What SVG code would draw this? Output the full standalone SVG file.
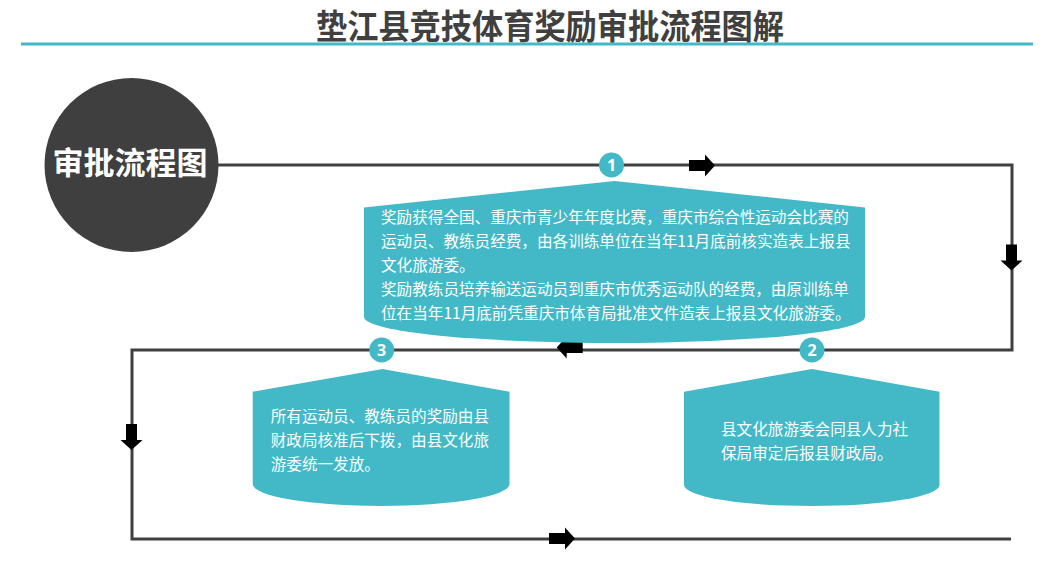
<svg xmlns="http://www.w3.org/2000/svg" xmlns:xlink="http://www.w3.org/1999/xlink" width="1061" height="568" viewBox="0 0 1061 568">
<style>
.line{fill:none;stroke:#404040;stroke-width:3}
.box{fill:#43b9c7}
.badge{fill:#43b9c7}
.num{font-family:"Open Sans","Liberation Sans",sans-serif;font-weight:bold;font-size:16px;fill:#ffffff;text-anchor:middle}
.txt{font-family:"Noto Sans CJK SC","Microsoft YaHei",sans-serif;font-size:15.6px;fill:#ffffff}
.title{font-family:"Noto Sans CJK SC",sans-serif;font-weight:bold;font-size:34px;fill:#404040}
.arrow{fill:#000000}
</style>
<defs>
<path id="arr" d="M-13,-5.5 H3 V-11 L13,0 L3,11 V5.5 H-13 Z"/>
</defs>
<rect width="1061" height="568" fill="#ffffff"/>
<g id="header">
<line x1="21" y1="44" x2="1033" y2="44" stroke="#43b9c7" stroke-width="3"/>
<text class="title" x="316" y="39" textLength="468" lengthAdjust="spacingAndGlyphs">垫江县竞技体育奖励审批流程图解</text>
</g>
<g id="connectors">
<path class="line" d="M210,165 H1012 V350 H132 V539 H1011"/>
<use xlink:href="#arr" class="arrow" transform="translate(702,165.5)"/>
<use xlink:href="#arr" class="arrow" transform="translate(1011.5,257.5) rotate(90)"/>
<use xlink:href="#arr" class="arrow" transform="translate(569.7,347.5) rotate(180)"/>
<use xlink:href="#arr" class="arrow" transform="translate(131.5,437) rotate(90)"/>
<use xlink:href="#arr" class="arrow" transform="translate(562,538.5)"/>
</g>
<g id="start">
<circle cx="131.5" cy="165" r="87" fill="#3f3f3f"/>
<text x="130" y="173.5" font-family="Noto Sans CJK SC,sans-serif" font-weight="bold" font-size="31" fill="#ffffff" text-anchor="middle">审批流程图</text>
</g>
<g id="step1">
<path class="box" d="M364,207.5 L614.5,181 L865,207.5 V317 A250.5,26 0 0 1 364,317 Z"/>
<circle class="badge" cx="611.5" cy="165" r="12.5"/>
<text class="num" x="611.5" y="170.7">1</text>
<text class="txt" x="381" y="223">奖励获得全国、重庆市青少年年度比赛，重庆市综合性运动会比赛的</text>
<text class="txt" x="381" y="247">运动员、教练员经费，由各训练单位在当年11月底前核实造表上报县</text>
<text class="txt" x="381" y="271">文化旅游委。</text>
<text class="txt" x="381" y="295">奖励教练员培养输送运动员到重庆市优秀运动队的经费，由原训练单</text>
<text class="txt" x="381" y="319">位在当年11月底前凭重庆市体育局批准文件造表上报县文化旅游委。</text>
</g>
<g id="step2">
<path class="box" d="M684,391.7 L812,369 L939.5,391.7 V485 A127.75,21 0 0 1 684,485 Z"/>
<circle class="badge" cx="812" cy="350" r="12.5"/>
<text class="num" x="812" y="355.7">2</text>
<text class="txt" x="721" y="435">县文化旅游委会同县人力社</text>
<text class="txt" x="721" y="459">保局审定后报县财政局。</text>
</g>
<g id="step3">
<path class="box" d="M252.7,391.7 L382.5,369 L509.5,391.7 V484 A128.4,22 0 0 1 252.7,484 Z"/>
<circle class="badge" cx="381.7" cy="350" r="12.5"/>
<text class="num" x="381.7" y="355.7">3</text>
<text class="txt" x="270.7" y="422">所有运动员、教练员的奖励由县</text>
<text class="txt" x="270.7" y="446">财政局核准后下拨，由县文化旅</text>
<text class="txt" x="270.7" y="470">游委统一发放。</text>
</g>
</svg>
